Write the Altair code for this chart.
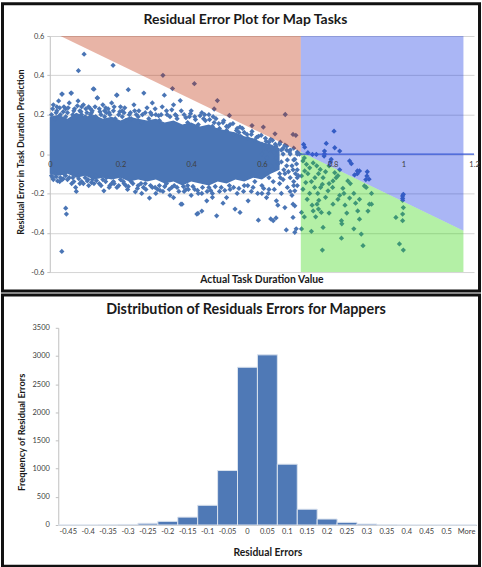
import altair as alt
import pandas as pd

# ---------------- Map tasks: actual duration vs residual error ----------------
# solid centre of the point cloud (upper / lower edge along duration)
core_x = [0.0, 0.025, 0.05, 0.075, 0.1, 0.125, 0.15, 0.175, 0.2, 0.225, 0.25, 0.275, 0.3, 0.325,
          0.35, 0.375, 0.4, 0.425, 0.45, 0.475, 0.5, 0.525, 0.55, 0.575, 0.6, 0.625, 0.65]
core_hi = [0.19, 0.2, 0.18, 0.21, 0.19, 0.2, 0.18, 0.19, 0.17, 0.19, 0.18, 0.17, 0.18, 0.16,
           0.17, 0.15, 0.16, 0.14, 0.15, 0.13, 0.12, 0.11, 0.09, 0.08, 0.06, 0.05, 0.03]
core_lo = [-0.1, -0.11, -0.1, -0.12, -0.11, -0.13, -0.12, -0.13, -0.12, -0.14, -0.13, -0.14, -0.13,
           -0.15, -0.14, -0.16, -0.14, -0.15, -0.16, -0.14, -0.15, -0.13, -0.14, -0.12, -0.13, -0.1, -0.08]

# points along the upper edge of the cloud
upper_edge = [
    (0.005, 0.2), (0.01, 0.25), (0.015, 0.18), (0.02, 0.22), (0.025, 0.27), (0.03, 0.2), (0.035, 0.305),
    (0.04, 0.24), (0.045, 0.19), (0.05, 0.21), (0.055, 0.26), (0.06, 0.31), (0.065, 0.2), (0.07, 0.23),
    (0.075, 0.19), (0.08, 0.27), (0.085, 0.22), (0.09, 0.2), (0.095, 0.25), (0.1, 0.19), (0.105, 0.21),
    (0.11, 0.24), (0.115, 0.2), (0.12, 0.22), (0.125, 0.33), (0.13, 0.19), (0.135, 0.285), (0.14, 0.23),
    (0.145, 0.2), (0.15, 0.25), (0.155, 0.19), (0.16, 0.21), (0.165, 0.23), (0.17, 0.2), (0.175, 0.26),
    (0.18, 0.22), (0.185, 0.18), (0.19, 0.3), (0.195, 0.2), (0.2, 0.24), (0.205, 0.19), (0.21, 0.21),
    (0.215, 0.17), (0.222, 0.327), (0.225, 0.2), (0.23, 0.18), (0.24, 0.22), (0.25, 0.19), (0.26, 0.16),
    (0.266, 0.31), (0.27, 0.21), (0.28, 0.18), (0.29, 0.26), (0.3, 0.2), (0.31, 0.17), (0.324, 0.299),
    (0.33, 0.22), (0.34, 0.19), (0.35, 0.25), (0.36, 0.18), (0.369, 0.272), (0.38, 0.2), (0.39, 0.16),
    (0.4, 0.22), (0.41, 0.19), (0.42, 0.15), (0.43, 0.21), (0.44, 0.17), (0.45, 0.2), (0.46, 0.14),
    (0.47, 0.18), (0.48, 0.13), (0.49, 0.16), (0.5, 0.12), (0.51, 0.15), (0.52, 0.1), (0.53, 0.13),
    (0.54, 0.09), (0.55, 0.11), (0.56, 0.08), (0.57, 0.1), (0.58, 0.07), (0.59, 0.09), (0.6, 0.05),
    (0.61, 0.08), (0.62, 0.06), (0.63, 0.07), (0.64, 0.04), (0.65, 0.05), (0.66, 0.03), (0.67, 0.04),
    (0.68, 0.02), (0.69, 0.03), (0.7, 0.01), (0.034, 0.305), (0.061, 0.31), (0.134, 0.285),
    (0.189, 0.299), (0.123, 0.331), (0.02, 0.24), (0.045, 0.23), (0.09, 0.24), (0.115, 0.23),
    (0.155, 0.22), (0.205, 0.22), (0.245, 0.2), (0.285, 0.21), (0.315, 0.2), (0.355, 0.2),
    (0.395, 0.19), (0.435, 0.18), (0.465, 0.16), (0.5, 0.14), (0.535, 0.11),
]

# denser band just above the solid centre
upper_halo = [
    (0.008, 0.23), (0.018, 0.21), (0.028, 0.235), (0.038, 0.215), (0.052, 0.235), (0.068, 0.22),
    (0.078, 0.245), (0.088, 0.215), (0.102, 0.23), (0.118, 0.21), (0.128, 0.24), (0.142, 0.215),
    (0.158, 0.235), (0.168, 0.21), (0.182, 0.24), (0.198, 0.215), (0.212, 0.235), (0.228, 0.21),
    (0.238, 0.25), (0.252, 0.22), (0.262, 0.2), (0.275, 0.235), (0.288, 0.2), (0.298, 0.23),
    (0.308, 0.195), (0.318, 0.24), (0.332, 0.2), (0.345, 0.225), (0.358, 0.195), (0.372, 0.22),
    (0.385, 0.185), (0.398, 0.205), (0.412, 0.175), (0.425, 0.195), (0.438, 0.2), (0.452, 0.175),
    (0.462, 0.19), (0.478, 0.155), (0.492, 0.17), (0.505, 0.14), (0.518, 0.155), (0.528, 0.12),
    (0.545, 0.13), (0.558, 0.1), (0.572, 0.115), (0.585, 0.085), (0.598, 0.095), (0.612, 0.065),
    (0.625, 0.075), (0.638, 0.05), (0.652, 0.06), (0.665, 0.045),
]

# points along the lower edge of the cloud
lower_edge = [
    (0.005, -0.11), (0.01, -0.13), (0.015, -0.1), (0.022, -0.137), (0.03, -0.12), (0.04, -0.1),
    (0.045, -0.11), (0.05, -0.13), (0.062, -0.15), (0.065, -0.12), (0.073, -0.17), (0.075, -0.19),
    (0.08, -0.11), (0.09, -0.14), (0.1, -0.12), (0.106, -0.137), (0.11, -0.16), (0.12, -0.13),
    (0.13, -0.11), (0.14, -0.15), (0.15, -0.13), (0.153, -0.187), (0.16, -0.12), (0.17, -0.16),
    (0.18, -0.14), (0.19, -0.17), (0.2, -0.13), (0.21, -0.15), (0.22, -0.18), (0.23, -0.14),
    (0.242, -0.192), (0.25, -0.16), (0.26, -0.2), (0.27, -0.15), (0.282, -0.224), (0.29, -0.17),
    (0.3, -0.2), (0.31, -0.16), (0.32, -0.19), (0.33, -0.15), (0.34, -0.21), (0.35, -0.221),
    (0.36, -0.17), (0.374, -0.255), (0.38, -0.19), (0.39, -0.16), (0.4, -0.21), (0.41, -0.18),
    (0.419, -0.302), (0.43, -0.2), (0.444, -0.238), (0.45, -0.17), (0.46, -0.22), (0.472, -0.314),
    (0.48, -0.19), (0.49, -0.25), (0.5, -0.221), (0.51, -0.18), (0.524, -0.28), (0.53, -0.2),
    (0.538, -0.297), (0.55, -0.16), (0.561, -0.238), (0.57, -0.19), (0.58, -0.14), (0.59, -0.336),
    (0.6, -0.2), (0.613, -0.221), (0.62, -0.18), (0.632, -0.339), (0.641, -0.238), (0.65, -0.15),
    (0.665, -0.272), (0.669, -0.386), (0.68, -0.19), (0.688, -0.255), (0.693, -0.398), (0.7, -0.12),
    (0.416, -0.305), (0.43, -0.29), (0.371, -0.255), (0.625, -0.33), (0.64, -0.325), (0.645, -0.26),
    (0.688, -0.322), (0.693, -0.263), (0.697, -0.38), (0.693, -0.187), (0.69, -0.16), (0.42, -0.2),
    (0.46, -0.2), (0.035, -0.13), (0.085, -0.15), (0.125, -0.15), (0.175, -0.15), (0.215, -0.16),
    (0.265, -0.17), (0.305, -0.18), (0.345, -0.17), (0.385, -0.18), (0.445, -0.19), (0.485, -0.17),
    (0.52, -0.17), (0.56, -0.16), (0.6, -0.16),
]

# denser band just below the solid centre
lower_halo = [
    (0.008, -0.12), (0.018, -0.115), (0.028, -0.14), (0.038, -0.125), (0.055, -0.12), (0.068, -0.14),
    (0.082, -0.125), (0.095, -0.15), (0.108, -0.13), (0.118, -0.145), (0.132, -0.135), (0.145, -0.16),
    (0.158, -0.14), (0.168, -0.17), (0.182, -0.15), (0.195, -0.16), (0.208, -0.14), (0.222, -0.165),
    (0.235, -0.15), (0.248, -0.175), (0.258, -0.15), (0.272, -0.18), (0.285, -0.16), (0.298, -0.17),
    (0.312, -0.185), (0.325, -0.165), (0.338, -0.18), (0.352, -0.16), (0.365, -0.19), (0.378, -0.165),
    (0.392, -0.18), (0.405, -0.165), (0.418, -0.185), (0.432, -0.17), (0.455, -0.185), (0.468, -0.165),
    (0.495, -0.185), (0.508, -0.16), (0.535, -0.175), (0.548, -0.19), (0.575, -0.17), (0.588, -0.2),
    (0.605, -0.175), (0.618, -0.2), (0.635, -0.18), (0.655, -0.2), (0.672, -0.17), (0.685, -0.21),
]

# sparse tail of the cloud between 0.6 and 0.71
cloud_tail = [
    (0.6, 0.0), (0.61, -0.05), (0.62, 0.02), (0.63, -0.08), (0.64, -0.02), (0.65, -0.1), (0.66, 0.0),
    (0.67, -0.06), (0.68, -0.12), (0.69, -0.03), (0.7, -0.08), (0.66, -0.13), (0.64, 0.03),
    (0.68, 0.0), (0.62, -0.12), (0.7, -0.16), (0.7, 0.0), (0.69, -0.14), (0.67, 0.02), (0.693, -0.027),
    (0.655, -0.04), (0.675, -0.09), (0.685, -0.06), (0.665, -0.1), (0.695, -0.1), (0.605, 0.03),
    (0.615, -0.02), (0.625, -0.06), (0.635, 0.01), (0.645, -0.05), (0.655, 0.02), (0.662, -0.08),
    (0.672, -0.03), (0.678, 0.01), (0.688, -0.08), (0.698, -0.05), (0.703, -0.11), (0.706, 0.0),
    (0.652, -0.12), (0.632, -0.14), (0.612, -0.1),
]

# isolated points far from the cloud
outliers = [
    (0.097, 0.508), (0.081, 0.424), (0.179, 0.451), (0.32, 0.4), (0.347, 0.333), (0.409, 0.358),
    (0.474, 0.272), (0.465, 0.229), (0.508, 0.196), (0.538, 0.137), (0.572, 0.145), (0.604, 0.137),
    (0.637, 0.103), (0.666, 0.201), (0.688, 0.1), (0.696, 0.095), (0.034, -0.495), (0.045, -0.275),
    (0.047, -0.305),
]

# tasks longer than 0.7
long_tasks = [
    (0.804, 0.116), (0.782, 0.054), (0.718, 0.049), (0.721, 0.035), (0.73, 0.007), (0.743, -0.002),
    (0.777, 0.015), (0.777, 0.0), (0.776, -0.01), (0.848, -0.035), (0.853, -0.049), (0.876, -0.086),
    (0.898, -0.09), (0.897, -0.111), (0.903, -0.128), (0.894, -0.13), (0.862, -0.106), (0.796, -0.027),
    (0.794, -0.04), (0.87, -0.086), (0.87, -0.1), (0.806, 0.032), (0.82, 0.015), (0.754, -0.002),
    (0.716, -0.035), (0.726, -0.052), (0.721, -0.086), (0.735, -0.07), (0.712, -0.111), (0.724, -0.145),
    (0.74, -0.14), (0.716, -0.179), (0.749, -0.17), (0.765, -0.078), (0.773, -0.12), (0.771, -0.154),
    (0.787, -0.187), (0.766, -0.17), (0.761, -0.235), (0.756, -0.255), (0.712, -0.297), (0.745, -0.289),
    (0.752, -0.319), (0.768, -0.297), (0.773, -0.373), (0.712, -0.381), (0.74, -0.393), (0.801, -0.255),
    (0.815, -0.23), (0.82, -0.21), (0.829, -0.174), (0.832, -0.2), (0.848, -0.224), (0.801, -0.137),
    (0.81, -0.12), (0.806, -0.095), (0.825, -0.339), (0.826, -0.355), (0.876, -0.23), (0.871, -0.289),
    (0.876, -0.331), (0.881, -0.407), (0.886, -0.466), (0.825, -0.428), (0.771, -0.488), (0.904, -0.255),
    (0.91, -0.255), (0.89, -0.162), (0.843, -0.137), (0.85, -0.15), (0.82, -0.08), (0.979, -0.322),
    (0.998, -0.339), (0.998, -0.305), (1.0, -0.272), (0.998, -0.235), (0.998, -0.225), (0.998, -0.213),
    (1.0, -0.205), (0.989, -0.457), (1.0, -0.488), (0.72, -0.02), (0.73, -0.1), (0.745, -0.045),
    (0.755, -0.06), (0.76, -0.1), (0.75, -0.12), (0.78, -0.09), (0.79, -0.15), (0.735, -0.2),
    (0.728, -0.23), (0.742, -0.26), (0.758, -0.2), (0.78, -0.22), (0.79, -0.3), (0.72, -0.32),
    (0.76, -0.28), (0.79, -0.06), (0.8, -0.17), (0.815, -0.11), (0.835, -0.26), (0.86, -0.2),
    (0.865, -0.25), (0.84, -0.3), (0.895, -0.17), (0.9, -0.29), (0.91, -0.2), (0.86, -0.38),
]

# shaded zones (x extent, upper and lower bound)
red_x, red_hi, red_lo = [0.03, 0.71], [0.6, 0.6], [0.6, 0.01]
blue_x, blue_hi, blue_lo = [0.71, 1.17], [0.6, 0.6], [0.01, -0.39]
green_x, green_hi, green_lo = [0.71, 1.17], [0.01, -0.39], [-0.6, -0.6]

x_ticks = [0, 0.2, 0.4, 0.6, 0.8, 1, 1.2]
y_ticks = [-0.6, -0.4, -0.2, 0, 0.2, 0.4, 0.6]

# ---------------- Mapper residual histogram ----------------
bins = ["-0.45", "-0.4", "-0.35", "-0.3", "-0.25", "-0.2", "-0.15", "-0.1", "-0.05", "0",
        "0.05", "0.1", "0.15", "0.2", "0.25", "0.3", "0.35", "0.4", "0.45", "0.5", "More"]
freq = [0, 0, 2, 10, 30, 65, 140, 350, 967, 2800, 3020, 1080, 280, 106, 47, 18, 2, 0, 0, 0, 0]
freq_ticks = [0, 500, 1000, 1500, 2000, 2500, 3000, 3500]

FONT = "Lato"
POINT = "#4a75b5"
LABEL = "#404040"
AXIS_LINE = "#bfbfbf"

one = pd.DataFrame({"k": [0]})


def text(label, x, y, size, angle=0):
    return alt.Chart(one).mark_text(
        font=FONT, fontWeight="bold", fontSize=size, color="#1a1a1a",
        align="center", baseline="middle", angle=angle,
    ).encode(x=alt.value(x), y=alt.value(y), text=alt.value(label))


def frame(x1, x2, y1, y2):
    return alt.Chart(one).mark_rect(fillOpacity=0, stroke="#111111", strokeWidth=3).encode(
        x=alt.value(x1), x2=alt.value(x2), y=alt.value(y1), y2=alt.value(y2)
    )


# ---- top panel (plot area origin is the panel's y axis) ----
W1, H1 = 426, 237
xs = alt.Scale(domain=[0, 1.2], nice=False, zero=False)
ys = alt.Scale(domain=[-0.6, 0.6], nice=False)
x_axis = alt.Axis(
    values=x_ticks, labelExpr="'' + datum.value", orient="bottom", offset=-H1 / 2,
    domain=False, ticks=False, grid=False, labelPadding=7, labelFontSize=7.5,
    labelColor=LABEL, labelFlush=False, zindex=1, title=None,
)
y_axis = alt.Axis(
    values=y_ticks, labelExpr="'' + datum.value", domainColor=AXIS_LINE, tickColor=AXIS_LINE,
    tickSize=3, grid=True, gridColor="#d4d4d4", labelPadding=3, labelFontSize=7.5,
    labelColor=LABEL, title=None,
)
X = alt.X("x:Q", scale=xs, axis=x_axis)
Y = alt.Y("y:Q", scale=ys, axis=y_axis)

pts = pd.DataFrame(
    upper_edge + upper_halo + lower_edge + lower_halo + cloud_tail + outliers + long_tasks,
    columns=["x", "y"],
)
core = pd.DataFrame({"x": core_x, "y": core_hi, "y2": core_lo})

core_layer = alt.Chart(core).mark_area(color=POINT).encode(x=X, y=Y, y2="y2:Q")
point_layer = alt.Chart(pts).mark_point(shape="diamond", filled=True, size=28, color=POINT, opacity=1).encode(x=X, y=Y)


def zone(xv, hi, lo, color):
    d = pd.DataFrame({"x": xv, "y": hi, "y2": lo})
    return alt.Chart(d).mark_area(color=color, opacity=0.35).encode(x=X, y=Y, y2="y2:Q")


red = zone(red_x, red_hi, red_lo, "#bd2901")
blue = zone(blue_x, blue_hi, blue_lo, "#0c2ee2")
green = zone(green_x, green_hi, green_lo, "#29d401")

zero_line = alt.Chart(pd.DataFrame({"x": [0.71], "x2": [1.2], "y": [0]})).mark_rule(
    color="#3a5bd6", strokeWidth=1.2
).encode(x=X, x2="x2:Q", y=Y)

top = alt.layer(
    core_layer, point_layer, red, blue, green, zero_line,
    frame(-47.5, 431.5, -32.5, 256),
    text("Residual Error Plot for Map Tasks", 196.5, -16, 14),
    text("Residual Error in Task Duration Prediction", -29, 116.5, 9, 270),
    text("Actual Task Duration Value", 213, 245, 10.4),
).properties(width=W1, height=H1)

# ---- bottom panel (same plot origin; bars and y axis start 8.5 px to the right) ----
W2, H2 = 430, 198
hist = pd.DataFrame({"bin": bins, "freq": freq})
bars = alt.Chart(hist).mark_bar(color="#4f79b6", stroke="#dbe3ee", strokeWidth=1).encode(
    x=alt.X("bin:N", sort=bins,
            scale=alt.Scale(domain=bins, range=[8.5, 428.5], paddingInner=0, paddingOuter=0),
            axis=alt.Axis(labelAngle=0, ticks=False, domainColor=AXIS_LINE, labelFontSize=7.5,
                          labelPadding=3, labelColor=LABEL, title=None)),
    y=alt.Y("freq:Q", scale=alt.Scale(domain=[0, 3500], nice=False),
            axis=alt.Axis(values=freq_ticks, format="d", grid=False, domainColor=AXIS_LINE,
                          tickColor=AXIS_LINE, tickSize=3, labelPadding=6, labelFontSize=7.5,
                          labelColor=LABEL, offset=-8.5, title=None)),
)

bottom = alt.layer(
    bars,
    frame(-47.5, 431.5, -33, 239.5),
    text("Distribution of Residuals Errors for Mappers", 197, -18, 14.4),
    text("Frequency of Residual Errors", -28, 105, 9.3, 270),
    text("Residual Errors", 219, 226, 10.4),
).properties(width=W2, height=H2)

chart = alt.vconcat(top, bottom, spacing=0).properties(padding=0).configure(
    font=FONT
).configure_view(stroke="transparent")

chart.save("out.html", embed_options={"renderer": "svg", "actions": False})
